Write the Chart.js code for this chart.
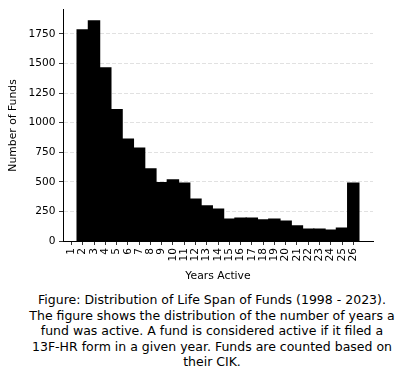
<!DOCTYPE html>
<html>
<head>
<meta charset="utf-8">
<script src="https://cdn.jsdelivr.net/npm/chart.js@4"></script>
<style>
  body { margin: 0; background: #fff; }
  #wrap { position: relative; width: 406px; height: 290px; }
  #caption {
    position: absolute; left: 9px; top: 292px; width: 406px;
    font-family: "DejaVu Sans"; font-size: 12.5px; line-height: 15.5px;
    text-align: center; color: #000;
  }
</style>
</head>
<body>
<div id="wrap"><canvas id="chart" width="406" height="290"></canvas></div>
<div id="caption">Figure: Distribution of Life Span of Funds (1998 - 2023).<br>The figure shows the distribution of the number of years a<br>fund was active. A fund is considered active if it filed a<br>13F-HR form in a given year. Funds are counted based on<br>their CIK.</div>
<script>
// years active (bins) and number of funds
const years = [2, 3, 4, 5, 6, 7, 8, 9, 10, 11, 12, 13, 14, 15, 16, 17, 18, 19, 20, 21, 22, 23, 24, 25, 26];
const funds = [1784, 1860, 1462, 1110, 862, 786, 609, 493, 516, 490, 355, 296, 270, 186, 194, 194, 178, 186, 169, 127, 101, 101, 93, 110, 490];

const xTicks = [1, 2, 3, 4, 5, 6, 7, 8, 9, 10, 11, 12, 13, 14, 15, 16, 17, 18, 19, 20, 21, 22, 23, 24, 25, 26];
const yTicks = [0, 250, 500, 750, 1000, 1250, 1500, 1750];

const yMax = Math.max(...funds) * 1.05;

const tickFont = { family: "DejaVu Sans", size: 10.6 };
const titleFont = { family: "DejaVu Sans", size: 10.8 };

new Chart(document.getElementById("chart"), {
  type: "bar",
  data: {
    datasets: [{
      data: years.map((y, i) => ({ x: y, y: funds[i] })),
      backgroundColor: "#000",
      borderWidth: 0,
      barPercentage: 1,
      categoryPercentage: 1,
      inflateAmount: 0.6
    }]
  },
  options: {
    responsive: false,
    animation: false,
    layout: { padding: { left: 0, right: 33, top: 4, bottom: 0 } },
    plugins: { legend: { display: false }, tooltip: { enabled: false } },
    scales: {
      x: {
        type: "linear",
        offset: false,
        min: 0.25,
        max: 27.75,
        afterBuildTicks: s => { s.ticks = xTicks.map(v => ({ value: v })); },
        afterFit: s => { s.height = 49; },
        ticks: {
          autoSkip: false, minRotation: 90, maxRotation: 90,
          padding: 3, color: "#000", font: tickFont
        },
        grid: { offset: false, drawOnChartArea: false, tickLength: 4, tickColor: "#000", tickWidth: 0.8 },
        border: { color: "#000", width: 1 },
        title: { display: true, text: "Years Active", color: "#000", font: titleFont, padding: { top: 0, bottom: 7 } }
      },
      y: {
        min: 0,
        max: yMax,
        z: 1,
        afterBuildTicks: s => { s.ticks = yTicks.map(v => ({ value: v })); },
        afterFit: s => { s.width = 63; },
        ticks: { padding: 3.5, color: "#000", font: tickFont, callback: v => String(v) },
        grid: {
          color: ctx => ctx.tick && ctx.tick.value === 0 ? "rgba(0,0,0,0)" : "rgba(128,128,128,0.3)",
          lineWidth: 0.8, tickLength: 4, tickColor: "#000", tickWidth: 0.8
        },
        border: { color: "#000", width: 1, dash: [4, 2] },
        title: { display: true, text: "Number of Funds", color: "#000", font: titleFont, padding: { top: 7, bottom: 0 } }
      }
    }
  }
});
</script>
</body>
</html>
